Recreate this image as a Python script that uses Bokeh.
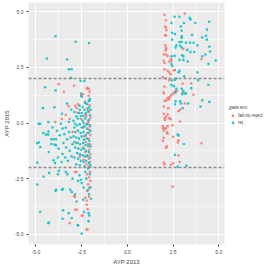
from bokeh.plotting import figure
from bokeh.models import Legend, LegendItem, Span, FixedTicker, Range1d
from bokeh.layouts import row
from bokeh.embed import file_html
from bokeh.resources import INLINE

groups = ["fail-no-reject", "rej"]
colors = ["#F8766D", "#00BFC4"]
ticks = [-5.0, -2.5, 0.0, 2.5, 5.0]
tick_labels = ["-5.0", "-2.5", "0.0", "2.5", "5.0"]
cutoffs = [2.0, -2.0]

# fail-no-reject, left cluster
fnr_left = [(-3.76,1.75),(-2.92,1.68),(-3.47,1.41),(-2.18,1.58),(-2.11,1.53),(-2.07,1.41),(-2.12,1.23),
    (-3.21,0.76),(-2.86,0.78),(-2.78,0.67),(-3.37,0.36),(-3.95,0.04),(-2.7,0.84),(-2.32,0.95),(-2.53,1.23),
    (-2.44,1.3),(-2.22,1.54),(-3.59,0.18),(-3.16,0.18),(-2.73,0.46),(-2.53,0.18),(-2.25,0.31),(-2.13,0.04),
    (-2.05,0.8),(-2.2,0.65),(-2.1,0.5),(-2.3,0.4),(-2.02,0.25),(-2.15,0.1),(-2.25,-0.05),(-2.05,-0.15),
    (-2.4,-0.2),(-2.1,-0.3),(-2.2,-0.45),(-2.02,-0.55),(-2.35,-0.6),(-2.12,-0.7),(-2.28,-0.85),(-2.05,-0.95),
    (-2.15,-1.05),(-2.45,-1.1),(-2.08,-1.2),(-2.3,-1.3),(-2.02,-1.4),(-2.2,-1.5),(-2.1,-1.6),(-2.4,-1.65),
    (-2.05,-1.75),(-2.25,-1.85),(-2.12,-1.95),(-2.6,-1.5),(-2.8,-0.9),(-3.0,-0.4),(-2.05,-2.2),(-2.2,-2.3),
    (-2.1,-2.45),(-2.02,-2.6),(-2.15,-2.75),(-2.08,-2.9),(-2.2,-3.05),(-2.1,-3.3),(-2.23,-3.48),(-2.92,-3.29),
    (-2.86,-2.2),(-2.78,-2.2),(-2.86,-3.9),(-2.78,-3.9),(-2.5,-4.16),(-3.16,-4.5),(-2.23,-4.79),(-2.3,-3.36),
    (-2.22,-3.67),(-2.18,-3.87),(-2.87,-3.32),(-2.44,-4.16),(-2.18,-4.79)]
# fail-no-reject, right cluster
fnr_right = [(2.03,4.87),(3.14,4.92),(2.11,4.62),(2.06,4.34),(2.11,4.29),(2.13,4.17),(2.06,3.94),(2.11,3.94),
    (2.06,3.5),(2.11,3.4),(2.13,3.33),(2.08,3.26),(3.06,3.33),(1.99,3.08),(2.11,3.08),(2.2,3.02),(2.37,2.88),
    (2.41,2.8),(2.29,2.77),(1.99,2.8),(2.03,2.7),(4.05,2.88),(2.03,2.42),(2.2,2.35),(2.29,2.28),(2.54,2.37),
    (2.6,2.38),(2.37,2.19),(1.94,2.07),(2.11,2.0),(2.29,1.93),(3.02,1.78),(3.49,1.78),(2.03,1.64),(1.99,1.37),
    (3.02,1.37),(2.63,1.44),(2.71,1.44),(2.54,1.37),(2.46,1.3),(2.37,1.23),(2.29,1.16),(2.2,1.12),(3.61,1.27),
    (1.99,1.34),(2.03,1.0),(2.11,1.0),(2.2,1.06),(2.29,1.09),(3.14,0.88),(1.99,0.74),(2.23,0.67),(2.88,0.6),
    (2.8,0.53),(1.99,0.42),(2.2,0.39),(2.11,0.28),(2.03,0.21),(2.06,0.14),(2.29,0.22),(2.37,0.17),(2.88,0.07),
    (1.94,-0.14),(2.03,-0.24),(2.2,-0.14),(2.11,-0.24),(1.94,-0.24),(2.46,-0.1),(1.99,-0.34),(2.16,-0.42),
    (2.2,-0.48),(2.5,-0.62),(1.99,-0.66),(1.94,-0.8),(2.8,-0.77),(2.76,-0.87),(4.05,-0.91),(2.16,-1.05),
    (2.11,-1.11),(2.8,-1.46),(1.99,-1.78),(2.03,-1.85),(2.37,-1.88),(2.5,-1.81),(2.85,-1.75),(2.47,-2.86)]

# rej, left cluster
rej_left = [(-3.93,3.9),(-2.83,3.65),(-2.1,3.6),(-4.4,2.9),(-3.3,2.86),(-3.2,2.42),(-3.05,2.42),(-3.08,2.03),
    (-2.56,1.89),(-2.35,1.89),(-4.5,1.61),(-3.93,1.47),(-2.53,1.33),(-2.5,1.19),(-2.07,1.02),(-2.12,0.99),
    (-2.05,1.08),(-4.62,0.67),(-3.99,0.71),(-3.3,0.88),(-3.07,0.6),(-3.58,0.42),(-2.55,0.32),(-2.4,0.32),
    (-2.62,0.78),(-2.45,0.72),(-2.35,0.6),(-2.2,0.85),(-2.15,0.55),(-2.9,0.5),(-2.65,0.45),(-2.3,0.2),
    (-2.05,0.35),(-2.45,0.1),(-2.7,0.2),(-3.2,0.05),(-2.95,0.1),
    (-4.86,-0.03),(-4.77,-0.03),(-4.32,0.04),(-3.64,-0.03),(-3.37,-0.21),(-2.86,-0.03),(-4.45,-0.52),
    (-4.32,-0.38),(-4.93,-0.91),(-4.16,-0.73),(-4.04,-0.73),(-3.9,-0.73),(-3.3,-0.73),(-4.85,-0.87),
    (-4.76,-1.08),(-4.16,-0.94),(-3.99,-0.97),(-3.9,-1.0),(-3.76,-1.15),(-3.55,-1.39),(-4.04,-1.67),
    (-3.96,-1.8),(-4.6,-0.45),(-4.1,-0.2),(-3.85,-0.35),(-3.7,-0.55),(-3.55,-0.25),(-3.45,-0.5),(-3.5,-0.9),
    (-3.35,-1.1),(-3.2,-0.4),(-3.1,-0.65),(-3.0,-0.95),(-3.15,-1.25),(-3.05,-1.5),(-3.25,-1.7),(-3.4,-1.55),
    (-3.6,-1.75),(-3.8,-1.55),(-4.3,-1.3),(-4.93,-1.78),(-4.33,-0.52),
    (-2.9,-0.2),(-2.75,-0.1),(-2.6,-0.05),(-2.5,-0.2),(-2.35,-0.15),(-2.2,-0.25),(-2.05,-0.1),(-2.85,-0.4),
    (-2.7,-0.35),(-2.55,-0.45),(-2.4,-0.4),(-2.28,-0.55),(-2.12,-0.45),(-2.02,-0.35),(-2.95,-0.6),
    (-2.8,-0.65),(-2.65,-0.7),(-2.5,-0.6),(-2.38,-0.75),(-2.22,-0.7),(-2.08,-0.8),(-2.9,-0.85),(-2.72,-0.9),
    (-2.58,-0.95),(-2.42,-0.9),(-2.3,-1.0),(-2.15,-0.95),(-2.02,-1.05),(-2.85,-1.1),(-2.68,-1.15),
    (-2.52,-1.2),(-2.38,-1.15),(-2.25,-1.25),(-2.1,-1.3),(-2.75,-1.35),(-2.6,-1.4),(-2.45,-1.45),
    (-2.32,-1.5),(-2.18,-1.45),(-2.05,-1.55),(-2.9,-1.55),(-2.7,-1.6),(-2.55,-1.7),(-2.4,-1.75),
    (-2.25,-1.7),(-2.1,-1.8),(-2.02,-1.9),(-2.8,-1.85),(-2.6,-1.9),(-2.35,-1.95),(-2.15,-2.05),
    (-2.25,0.45),(-2.1,0.15),(-2.02,0.6),(-2.32,0.9),(-2.6,0.6),(-2.8,0.3),(-2.5,0.45),(-2.18,-0.05),
    (-2.4,0.0),(-2.1,0.7),
    (-4.28,-2.24),(-4.59,-2.41),(-4.93,-2.76),(-3.8,-2.3),(-3.75,-2.15),(-3.37,-2.2),(-3.28,-2.3),
    (-3.9,-3.0),(-3.93,-3.05),(-3.58,-3.0),(-3.52,-2.97),(-3.13,-3.0),(-3.04,-3.1),(-2.86,-3.2),
    (-2.62,-2.35),(-2.55,-2.55),(-2.5,-2.7),(-2.25,-2.5),(-2.15,-3.0),(-2.78,-3.53),(-2.43,-3.45),
    (-2.05,-2.3),(-2.3,-2.2),(-2.02,-2.9),(-2.1,-3.2),(-2.0,-3.4),(-2.4,-2.9),(-2.7,-2.6),(-3.0,-2.5),
    (-4.77,-3.99),(-3.52,-3.92),(-3.21,-4.05),(-2.38,-4.0),(-2.12,-4.05),(-2.09,-4.16),(-3.55,-4.3),
    (-3.04,-4.27),(-4.3,-4.48),(-2.71,-4.58),(-2.12,-4.41),(-2.5,-4.97),(-4.33,-4.5),(-2.7,-4.6)]
# rej, right cluster
rej_right = [(2.58,4.78),(2.85,4.78),(3.4,4.73),(3.45,4.66),(3.71,4.5),(4.47,4.55),(2.41,4.5),(3.09,4.5),
    (2.92,4.34),(4.35,4.2),(2.97,4.15),(2.45,4.06),(2.6,4.0),(3.54,3.96),(2.97,3.9),(2.97,3.83),(4.09,3.85),
    (4.3,3.92),(2.45,3.75),(4.35,3.75),(2.85,3.64),(2.97,3.64),(3.2,3.61),(3.43,3.61),(3.62,3.61),(2.68,3.5),
    (2.63,3.4),(3.83,3.5),(4.48,3.43),(2.88,3.47),(2.97,3.4),(3.28,3.29),(3.45,3.19),(3.66,3.19),(4.52,3.22),
    (2.41,3.0),(2.58,3.02),(2.99,3.05),(3.06,3.0),(4.26,3.08),(4.09,3.0),(2.85,2.84),(3.06,2.84),(3.3,2.77),
    (4.83,2.81),(4.43,2.66),(2.41,2.66),(2.45,2.57),(2.8,2.28),(2.85,2.35),(3.83,2.28),(2.45,1.92),(2.6,1.95),
    (2.68,2.0),(3.11,2.1),(3.87,1.93),(2.41,1.71),(2.54,1.66),(2.68,1.54),(4.43,1.72),(2.97,1.54),(3.49,1.57),
    (2.63,1.37),(3.14,1.33),(3.06,1.44),(3.2,1.34),(3.0,1.3),(2.63,0.98),(2.88,0.98),(4.09,1.02),(4.48,0.95),
    (2.93,0.88),(3.32,0.88),(2.6,0.84),(3.02,0.67),(4.0,0.74),(2.75,-0.52),(2.8,-0.56),(3.09,-0.94),
    (2.6,-1.43),(3.23,-1.92),(2.75,-1.96)]

fnr_pts = fnr_left + fnr_right
rej_pts = rej_left + rej_right
fnr_x = [p[0] for p in fnr_pts]
fnr_y = [p[1] for p in fnr_pts]
rej_x = [p[0] for p in rej_pts]
rej_y = [p[1] for p in rej_pts]

p = figure(frame_width=196, frame_height=242, output_backend="svg", toolbar_location=None,
           x_range=Range1d(-5.41, 5.31), y_range=Range1d(-5.46, 5.42),
           min_border_left=2, min_border_right=2, min_border_top=2, min_border_bottom=2)
p.background_fill_color = "#EBEBEB"
p.border_fill_color = "white"
p.outline_line_color = None

for ax in (p.xaxis[0], p.yaxis[0]):
    ax.ticker = FixedTicker(ticks=ticks, minor_ticks=[-3.75, -1.25, 1.25, 3.75])
    ax.major_label_overrides = {t: l for t, l in zip(ticks, tick_labels)}
    ax.axis_line_color = None
    ax.major_tick_line_color = "#333333"
    ax.major_tick_in = 0
    ax.major_tick_out = 2
    ax.minor_tick_line_color = None
    ax.major_label_text_font_size = "5px"
    ax.major_label_text_color = "#4D4D4D"
    ax.major_label_text_font = "Liberation Sans"
    ax.axis_label_text_font_size = "6px"
    ax.axis_label_text_font_style = "normal"
    ax.axis_label_text_font = "Liberation Sans"
    ax.axis_label_standoff = 2
    ax.major_label_standoff = 1
p.xaxis.axis_label = "AYP 2013"
p.yaxis.axis_label = "AYP 2015"

p.grid.grid_line_color = "white"
p.grid.grid_line_width = 1
p.grid.minor_grid_line_color = "white"
p.grid.minor_grid_line_width = 0.5

p.scatter(fnr_x, fnr_y, size=2.6, color=colors[0], alpha=0.85, line_width=0)
p.scatter(rej_x, rej_y, size=2.6, color=colors[1], alpha=0.85, line_width=0)

for c in cutoffs:
    p.add_layout(Span(location=c, dimension="width", line_color="#8C8C8C",
                      line_width=1.5, line_dash="3 2"))

# legend panel as a separate small figure; its ranges keep the data out of view,
# the renderers only supply the legend keys
lf = figure(width=42, height=250, output_backend="svg", toolbar_location=None,
            x_range=Range1d(0, 1), y_range=Range1d(0, 1),
            min_border_left=2, min_border_right=0, min_border_top=2, min_border_bottom=0)
lf.axis.visible = False
lf.grid.visible = False
lf.outline_line_color = None
lf.background_fill_color = "white"
lr1 = lf.scatter(fnr_x, fnr_y, size=3.5, color=colors[0], alpha=0.85, line_width=0)
lr2 = lf.scatter(rej_x, rej_y, size=3.5, color=colors[1], alpha=0.85, line_width=0)

legend = Legend(items=[LegendItem(label=groups[0], renderers=[lr1], index=0),
                       LegendItem(label=groups[1], renderers=[lr2], index=0)],
                title="gate.em", location="center_left")
legend.title_text_font_size = "5px"
legend.title_text_font = "Liberation Sans"
legend.label_text_font_size = "4.5px"
legend.label_text_font = "Liberation Sans"
legend.glyph_width = 7
legend.glyph_height = 7
legend.label_height = 7
legend.spacing = 0
legend.padding = 2
legend.margin = 1
legend.border_line_color = None
legend.background_fill_alpha = 0
legend.title_standoff = 2
legend.label_standoff = 2
lf.add_layout(legend, "center")

layout = row(p, lf)
open("out.html", "w").write(file_html(layout, INLINE))
